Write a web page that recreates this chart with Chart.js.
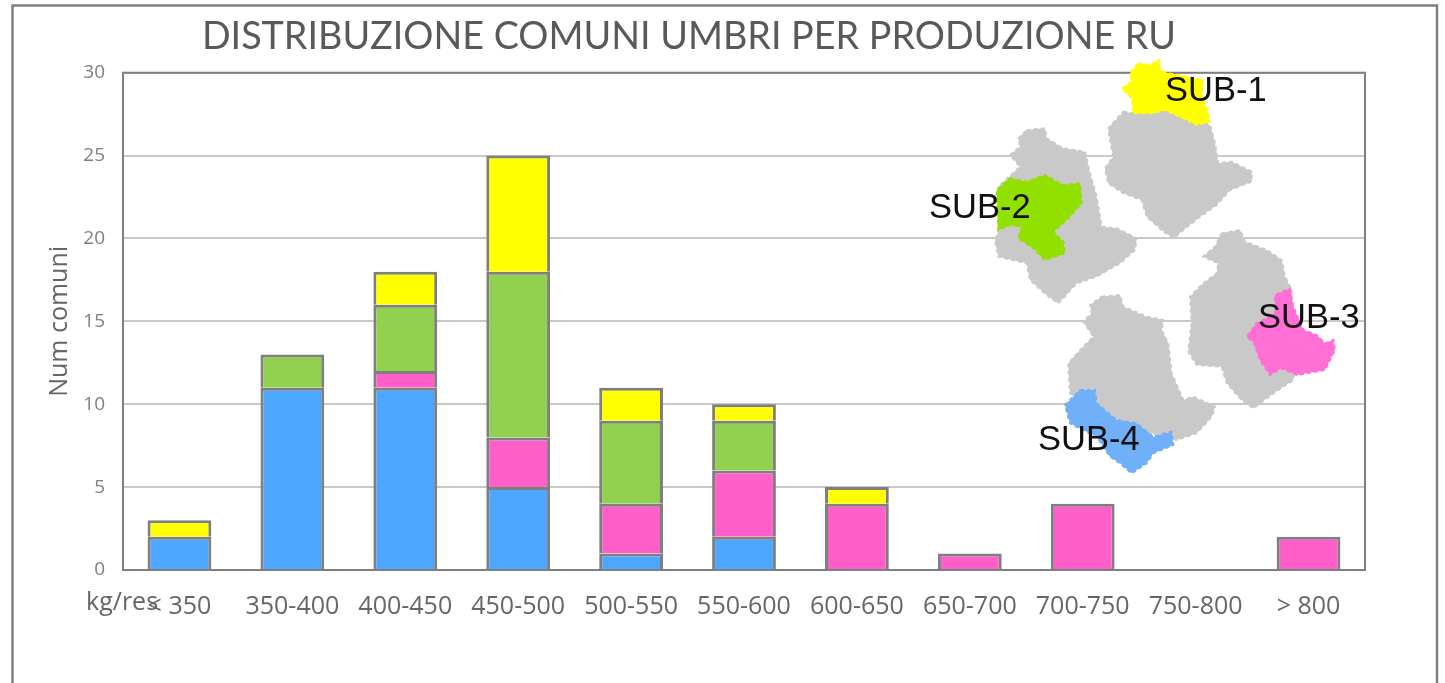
<!DOCTYPE html>
<html>
<head>
<meta charset="utf-8">
<style>html,body{margin:0;padding:0;background:#fff;overflow:hidden}canvas{display:block}</style>
<script src="https://cdn.jsdelivr.net/npm/chart.js@4"></script>
</head>
<body>
<div style="width:1445px;height:683px"><canvas id="c" width="1445" height="683"></canvas></div>
<script>
const categories = ['< 350','350-400','400-450','450-500','500-550','550-600','600-650','650-700','700-750','750-800','> 800'];
const sub4Blue   = [2,11,11,5,1,2,null,null,null,null,null];
const sub3Pink   = [null,null,1,3,3,4,4,1,4,null,2];
const sub2Green  = [null,2,4,10,5,3,null,null,null,null,null];
const sub1Yellow = [1,null,2,7,2,1,1,null,null,null,null];
const titleText = 'DISTRIBUZIONE COMUNI UMBRI PER PRODUZIONE RU';
const yAxisLabel = 'Num comuni';
const xUnitLabel = 'kg/res';

const Z = p => [p[0]/3+920, p[1]/3+50];
const mapGray = [
 [[610,185],[640,190],[700,190],[735,180],[790,205],[870,225],[885,280],[895,340],[935,335],[995,365],[995,395],[930,420],[890,465],[840,500],[790,540],[760,565],[725,540],[680,500],[665,450],[610,430],[565,400],[555,355],[580,320],[570,270],[565,235]],
 [[320,240],[375,235],[380,265],[430,295],[495,305],[510,370],[530,440],[545,530],[590,535],[650,565],[645,600],[600,640],[530,680],[470,700],[415,760],[380,735],[330,690],[320,640],[235,620],[225,570],[235,545],[235,410],[300,350],[270,315],[300,290],[295,265]],
 [[905,550],[960,540],[975,575],[1040,600],[1085,630],[1095,680],[1115,720],[1115,750],[1130,850],[1120,990],[1060,1030],[1000,1075],[965,1050],[920,1000],[905,950],[830,945],[805,905],[815,815],[810,740],[850,700],[890,670],[895,640],[850,620],[885,590]],
 [[545,740],[600,735],[610,770],[680,800],[730,810],[725,840],[745,880],[755,970],[790,1050],[820,1040],[885,1070],[875,1100],[830,1150],[770,1170],[700,1150],[600,1140],[520,1100],[450,1030],[445,940],[490,890],[520,860],[490,815],[515,790],[510,765]]
];
const mapParts = [
 {c:'#ffff00',p:[[655,40],[690,45],[718,30],[720,60],[745,70],[850,90],[845,140],[860,175],[870,215],[830,225],[790,205],[735,180],[700,190],[640,190],[635,145],[605,115],[635,95],[630,70]]},
 {c:'#92e000',p:[[270,385],[320,395],[375,375],[410,395],[430,405],[480,400],[485,460],[440,510],[400,545],[430,575],[435,610],[375,630],[340,595],[295,565],[305,530],[270,525],[235,540],[230,420]]},
 {c:'#ff6fd6',p:[[1110,715],[1120,770],[1150,840],[1190,855],[1215,880],[1240,870],[1245,900],[1215,960],[1130,975],[1085,955],[1050,975],[1020,930],[1000,875],[980,860],[1010,820],[1065,790],[1065,735]]},
 {c:'#70b0f8',p:[[480,1020],[525,1020],[530,1060],[590,1110],[650,1120],[700,1160],[755,1145],[760,1185],[700,1210],[680,1240],[635,1270],[600,1240],[570,1220],[530,1160],[450,1120],[435,1065],[460,1040]]}
];
const mapLabels = [['SUB-1',1165,101],['SUB-2',929,218],['SUB-3',1258,328],['SUB-4',1038,450]];

function poly(ctx, pts, color){
  ctx.beginPath();
  pts.map(Z).forEach((q,i)=> i ? ctx.lineTo(q[0],q[1]) : ctx.moveTo(q[0],q[1]));
  ctx.closePath();
  ctx.fillStyle = color; ctx.fill();
  ctx.strokeStyle = color; ctx.lineWidth = 2; ctx.setLineDash([4,3]); ctx.stroke(); ctx.setLineDash([]);
}
const decor = {
  id:'decor',
  beforeDatasetsDraw(chart){
    const {ctx,chartArea:a} = chart;
    ctx.save();
    ctx.strokeStyle='#7f7f7f'; ctx.lineWidth=2;
    ctx.strokeRect(a.left,a.top,a.right-a.left,a.bottom-a.top);
    ctx.restore();
  },
  afterDraw(chart){
    const {ctx} = chart;
    ctx.save();
    ctx.strokeStyle='#7f7f7f'; ctx.lineWidth=2.5;
    ctx.beginPath(); ctx.moveTo(12.5,690); ctx.lineTo(12.5,5.5); ctx.lineTo(1437,5.5); ctx.lineTo(1437,690); ctx.stroke();
    mapGray.forEach(p=>poly(ctx,p,'#c9c9c9'));
    mapParts.forEach(m=>poly(ctx,m.p,m.c));
    ctx.fillStyle='#111'; ctx.font='34.5px "Liberation Sans"'; ctx.textBaseline='alphabetic'; ctx.textAlign='left';
    mapLabels.forEach(l=>ctx.fillText(l[0],l[1],l[2]));
    ctx.fillStyle='#666'; ctx.font='25px "Open Sans"'; ctx.textBaseline='middle';
    ctx.fillText(xUnitLabel,86,603);
    ctx.restore();
  }
};
const bar = (label,data,color)=>({label,data,backgroundColor:color,borderColor:'#7f7f7f',borderWidth:3,barPercentage:.565,categoryPercentage:1});
new Chart(document.getElementById('c'),{
  type:'bar',
  data:{labels:categories,datasets:[
    bar('SUB-4',sub4Blue,'#4da6ff'),
    bar('SUB-3',sub3Pink,'#ff5fc8'),
    bar('SUB-2',sub2Green,'#92d050'),
    bar('SUB-1',sub1Yellow,'#ffff00')
  ]},
  options:{
    responsive:false,animation:false,
    layout:{padding:{left:13,right:80,top:0,bottom:0}},
    plugins:{
      legend:{display:false},tooltip:{enabled:false},
      title:{display:true,text:titleText,color:'#595959',font:{family:'Lato',size:37.7,weight:'400'},padding:{top:14.5,bottom:13}}
    },
    scales:{
      x:{stacked:true,grid:{display:false,drawTicks:false},border:{display:false},
         ticks:{color:'#666',font:{family:'Open Sans',size:25},padding:22,maxRotation:0,autoSkip:false},
         afterFit(s){s.height=113;}},
      y:{stacked:true,min:0,max:30,
         grid:{color:'#c8c8c8',lineWidth:2,drawTicks:false},border:{display:false},
         ticks:{stepSize:5,color:'#7f7f7f',font:{family:'Open Sans',size:19},padding:18},
         title:{display:true,text:yAxisLabel,color:'#666',font:{family:'Open Sans',size:25},padding:{top:32,bottom:0}},
         afterFit(s){s.width=110;}}
    }
  },
  plugins:[decor]
});
</script>
</body>
</html>
